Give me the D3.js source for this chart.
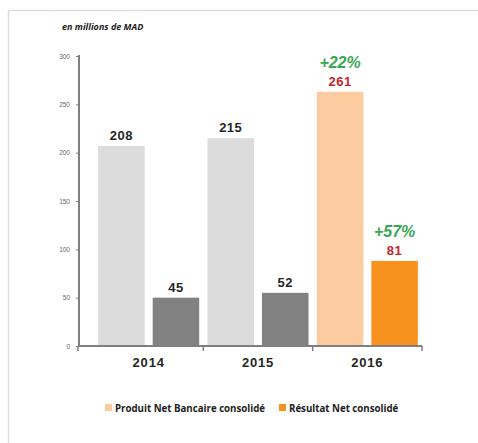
<!DOCTYPE html>
<html>
<head>
<meta charset="utf-8">
<script src="https://cdn.jsdelivr.net/npm/d3@7"></script>
<style>
  body { margin: 0; background: #fff; overflow: hidden; }
</style>
</head>
<body>
<div id="chart"></div>
<script>
// chart data
const years = ["2014", "2015", "2016"];
const series = ["pnb", "rn"];
const pnbValues = [207, 215, 263];
const rnValues = [50, 55, 88];
const pnbLabels = ["208", "215", "261"];
const rnLabels = ["45", "52", "81"];
const growthLabels = { pnb: "+22%", rn: "+57%" };
const yTicks = [0, 50, 100, 150, 200, 250, 300];
const legendNames = ["Produit Net Bancaire consolidé", "Résultat Net consolidé"];

const width = 478, height = 443;

let svg = d3.select("#chart")
    .append("svg")
    .attr("width", width)
    .attr("height", height)
    .style("display", "block");

// frame
svg.append("line").attr("x1", 8).attr("x2", 478).attr("y1", 10.5).attr("y2", 10.5)
    .attr("stroke", "#dedede").attr("stroke-width", 1.5);
svg.append("line").attr("x1", 8.5).attr("x2", 8.5).attr("y1", 10).attr("y2", 443)
    .attr("stroke", "#dedede").attr("stroke-width", 1.5);

svg.append("text")
    .attr("x", 62).attr("y", 30)
    .style("font-family", "Open Sans, sans-serif")
    .style("font-size", "9px")
    .style("font-weight", "bold")
    .style("font-style", "italic")
    .attr("fill", "#222")
    .text("en millions de MAD");

let y = d3.scaleLinear().domain([0, 300]).range([346, 56]);
let x0 = d3.scaleBand().domain(years).range([94, 422]);
let x1 = d3.scaleBand().domain(series).range([0, x0.bandwidth()])
    .paddingInner(0.147).paddingOuter(0.076);

const fills = {
    "2014": { pnb: "#dcdcdd", rn: "#818181" },
    "2015": { pnb: "#dcdcdd", rn: "#818181" },
    "2016": { pnb: "#fccb9f", rn: "#f7921f" }
};

let rows = [];
years.forEach(function(yr, i) {
    rows.push({ year: yr, key: "pnb", value: pnbValues[i], label: pnbLabels[i] });
    rows.push({ year: yr, key: "rn", value: rnValues[i], label: rnLabels[i] });
});

svg.append("g").selectAll("rect").data(rows).enter()
    .append("rect")
    .attr("x", function(d) { return x0(d.year) + x1(d.key); })
    .attr("y", function(d) { return y(d.value); })
    .attr("width", x1.bandwidth())
    .attr("height", function(d) { return y(0) - y(d.value); })
    .attr("fill", function(d) { return fills[d.year][d.key]; });

// value labels
svg.append("g").selectAll("text").data(rows).enter()
    .append("text")
    .attr("x", function(d) { return x0(d.year) + x1(d.key) + x1.bandwidth() / 2; })
    .attr("y", function(d) { return y(d.value) - 6; })
    .attr("text-anchor", "middle")
    .style("font-family", "Liberation Sans, Arial, sans-serif")
    .style("font-size", "13px")
    .style("font-weight", "bold")
    .style("letter-spacing", "0.5px")
    .attr("fill", function(d) { return d.year === "2016" ? "#c1272d" : "#262626"; })
    .text(function(d) { return d.label; });

// growth labels for last year
svg.append("g").selectAll("text").data(rows.filter(function(d) { return d.year === "2016"; })).enter()
    .append("text")
    .attr("x", function(d) { return x0(d.year) + x1(d.key) + x1.bandwidth() / 2; })
    .attr("y", function(d) { return y(d.value) - 24; })
    .attr("text-anchor", "middle")
    .style("font-family", "Liberation Sans, Arial, sans-serif")
    .style("font-size", "16px")
    .style("font-style", "italic")
    .style("font-weight", "bold")
    .attr("fill", "#3aa655")
    .text(function(d) { return growthLabels[d.key]; });

// y axis
let yAxis = svg.append("g")
    .attr("transform", "translate(79,0)")
    .call(d3.axisLeft(y).tickValues(yTicks).tickSize(3).tickPadding(6));
yAxis.select(".domain").attr("stroke", "#7f7f7f").attr("stroke-width", 2).attr("d", "M0,55V347");
yAxis.selectAll(".tick line").attr("stroke", "#7f7f7f");
yAxis.selectAll(".tick text")
    .style("font-family", "Liberation Sans, Arial, sans-serif")
    .style("font-size", "6.5px")
    .attr("fill", "#666");

// x axis
let xg = svg.append("g");
xg.append("line").attr("x1", 78).attr("x2", 422).attr("y1", y(0)).attr("y2", y(0))
    .attr("stroke", "#7f7f7f").attr("stroke-width", 2);
let bounds = [78].concat(years.map(function(yr) { return x0(yr) + x0.bandwidth(); }));
xg.selectAll(".xt").data(bounds).enter()
    .append("line")
    .attr("x1", function(d) { return d; }).attr("x2", function(d) { return d; })
    .attr("y1", y(0)).attr("y2", y(0) + 5)
    .attr("stroke", "#7f7f7f").attr("stroke-width", 1.5);
xg.selectAll(".yl").data(years).enter()
    .append("text")
    .attr("x", function(d) { return x0(d) + x0.bandwidth() / 2; })
    .attr("y", 367)
    .attr("text-anchor", "middle")
    .style("font-family", "Liberation Sans, Arial, sans-serif")
    .style("font-size", "13px")
    .style("font-weight", "bold")
    .style("letter-spacing", "0.8px")
    .attr("fill", "#262626")
    .text(function(d) { return d; });

// legend
const legendX = [105, 279];
const legendFill = ["#fccb9f", "#f7921f"];
let legend = svg.append("g");
legendNames.forEach(function(name, i) {
    legend.append("rect")
        .attr("x", legendX[i]).attr("y", 404)
        .attr("width", 7).attr("height", 7)
        .attr("fill", legendFill[i]);
    legend.append("text")
        .attr("x", legendX[i] + 10).attr("y", 411.5)
        .style("font-family", "Open Sans, sans-serif")
        .style("font-size", "9.7px")
        .style("font-weight", "bold")
        .attr("fill", "#222")
        .text(name);
});
</script>
</body>
</html>
